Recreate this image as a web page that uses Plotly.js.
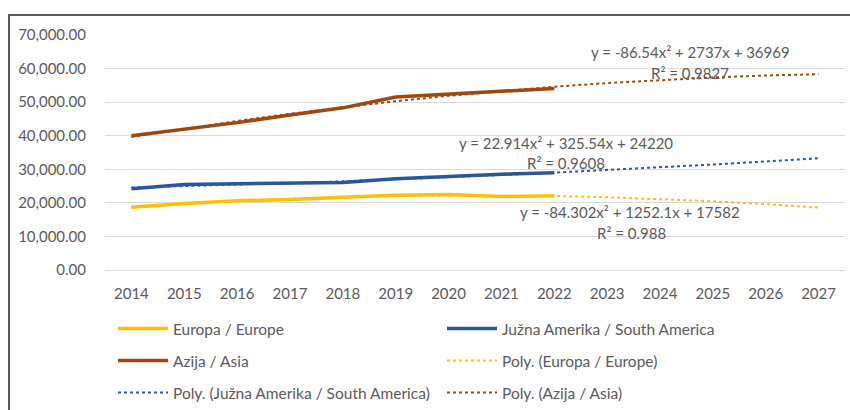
<!DOCTYPE html>
<html>
<head>
<meta charset="utf-8">
<script src="https://cdn.plot.ly/plotly-3.0.1.min.js"></script>
<style>
  html, body { margin: 0; padding: 0; background: #fff; }
  #wrap { position: relative; width: 850px; height: 410px; overflow: hidden; }
  #chart { width: 850px; height: 410px; }
  #frame { position: absolute; left: 8px; top: 14px; width: 1000px; height: 1000px;
           border-top: 2px solid #5a5a5a; border-left: 2px solid #5a5a5a; pointer-events: none; }
</style>
</head>
<body>
<div id="wrap">
  <div id="chart"></div>
  <div id="frame"></div>
</div>
<script>
// Categories
const years = ['2014','2015','2016','2017','2018','2019','2020','2021','2022','2023','2024','2025','2026','2027'];
const dataYears = years.slice(0, 9);

// Series values
const europe       = [18700, 19800, 20600, 21000, 21700, 22300, 22500, 21900, 22100];
const southAmerica = [24200, 25500, 25700, 25900, 26100, 27200, 27900, 28500, 29000];
const asia         = [40000, 41900, 43900, 46200, 48300, 51500, 52400, 53400, 54100];

const europeTrend       = [18750, 19749, 20580, 21242, 21735, 22060, 22216, 22204, 22022, 21673, 21155, 20468, 19612, 18588];
const southAmericaTrend = [24569, 24963, 25403, 25889, 26421, 26998, 27622, 28291, 29006, 29767, 30574, 31426, 32325, 33269];
const asiaTrend         = [39619, 42097, 44401, 46532, 48491, 50276, 51888, 53326, 54592, 55685, 56605, 57351, 57925, 58325];

// Names and labels
const names = {
  eu: 'Europa / Europe',
  sa: 'Južna Amerika / South America',
  as: 'Azija / Asia',
  peu: 'Poly. (Europa / Europe)',
  psa: 'Poly. (Južna Amerika / South America)',
  pas: 'Poly. (Azija / Asia)'
};
const eqAsia = ['y = -86.54x² + 2737x + 36969', 'R² = 0.9827'];
const eqSA   = ['y = 22.914x² + 325.54x + 24220', 'R² = 0.9608'];
const eqEU   = ['y = -84.302x² + 1252.1x + 17582', 'R² = 0.988'];

const cEU = '#FFC000', cSA = '#2B579A', cAS = '#9E480E';
const FONT = 'Lato, "Open Sans", sans-serif';
const TXT = '#595959';

const traces = [
  {x: dataYears, y: europe, name: names.eu, mode: 'lines', line: {color: cEU, width: 3.5}, legend: 'legend'},
  {x: dataYears, y: southAmerica, name: names.sa, mode: 'lines', line: {color: cSA, width: 3.5}, legend: 'legend'},
  {x: dataYears, y: asia, name: names.as, mode: 'lines', line: {color: cAS, width: 3.5}, legend: 'legend2'},
  {x: years, y: europeTrend, name: names.peu, mode: 'lines', line: {color: cEU, width: 2, dash: 'dot'}, legend: 'legend2'},
  {x: years, y: southAmericaTrend, name: names.psa, mode: 'lines', line: {color: cSA, width: 2, dash: 'dot'}, legend: 'legend3'},
  {x: years, y: asiaTrend, name: names.pas, mode: 'lines', line: {color: cAS, width: 2, dash: 'dot'}, legend: 'legend3'}
];

// plot area: x 105..845, y 35..270
const W = 850, H = 410;
const L = 105, R = 845, T = 35, B = 270;
const px = v => (v - L) / (R - L);
const py = v => (B - v) / (B - T);
const cx = v => v / W;
const cy = v => 1 - v / H;

function ann(text, x, y) {
  return {text: text, xref: 'paper', yref: 'paper', x: px(x), y: py(y),
          xanchor: 'center', yanchor: 'middle', showarrow: false,
          font: {family: FONT, size: 15, color: TXT}};
}

const legendBase = {
  orientation: 'h', xref: 'container', yref: 'container', xanchor: 'left', yanchor: 'middle',
  x: cx(113), itemwidth: 50, entrywidth: 264, entrywidthmode: 'pixels',
  font: {family: FONT, size: 15.5, color: TXT}, bgcolor: 'rgba(0,0,0,0)', borderwidth: 0
};

const layout = {
  width: W, height: H,
  margin: {l: L, r: W - R, t: T, b: H - B, pad: 0, autoexpand: false},
  paper_bgcolor: '#fff', plot_bgcolor: '#fff',
  font: {family: FONT, size: 15, color: TXT},
  showlegend: true,
  xaxis: {
    type: 'category', categoryorder: 'array', categoryarray: years,
    range: [-0.5, years.length - 0.5], automargin: false,
    showgrid: false, zeroline: false, showline: false, ticks: '',
    ticklabelstandoff: 13,
    tickfont: {family: FONT, size: 15, color: TXT}
  },
  yaxis: {
    range: [0, 70000], dtick: 10000, tick0: 0, tickformat: ',.2f', automargin: false,
    showgrid: true, gridcolor: '#D9D9D9', gridwidth: 1,
    zeroline: true, zerolinecolor: '#D9D9D9', zerolinewidth: 1,
    showline: false, ticks: '', ticklabelstandoff: 18,
    tickfont: {family: FONT, size: 15, color: TXT}
  },
  legend: Object.assign({}, legendBase, {y: cy(329)}),
  legend2: Object.assign({}, legendBase, {y: cy(361)}),
  legend3: Object.assign({}, legendBase, {y: cy(393)}),
  annotations: [
    ann(eqAsia[0], 690, 52), ann(eqAsia[1], 690, 73),
    ann(eqSA[0], 566, 143), ann(eqSA[1], 566, 163),
    ann(eqEU[0], 630, 212), ann(eqEU[1], 631, 233)
  ]
};

Plotly.newPlot('chart', traces, layout, {displayModeBar: false, staticPlot: true});
</script>
</body>
</html>
